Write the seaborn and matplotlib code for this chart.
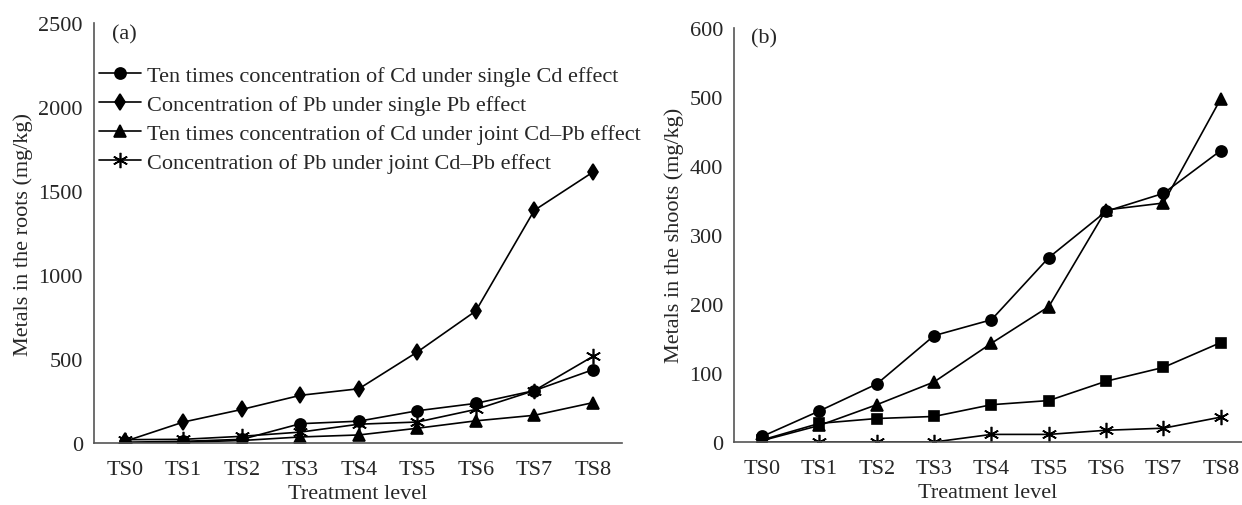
import pandas as pd
import matplotlib.pyplot as plt
import seaborn as sns

# Treatment levels
levels = ['TS0', 'TS1', 'TS2', 'TS3', 'TS4', 'TS5', 'TS6', 'TS7', 'TS8']

# (a) roots, mg/kg
roots_cd_single = [5, 10, 22, 115, 130, 192, 236, 312, 436]
roots_pb_single = [10, 125, 200, 284, 323, 542, 786, 1385, 1612]
roots_cd_joint = [0, 5, 15, 36, 48, 88, 132, 165, 240]
roots_pb_joint = [20, 22, 40, 65, 112, 125, 200, 312, 515]

# (b) shoots, mg/kg
shoots_cd_single = [8, 45, 84, 154, 177, 267, 334, 360, 422]
shoots_cd_joint = [2, 24, 54, 87, 143, 196, 336, 346, 497]
shoots_pb_single = [3, 27, 34, 37, 54, 60, 88, 108, 144]
shoots_pb_joint = [0, 0, 0, 0, 11, 11, 17, 20, 36]

legend_labels = [
    'Ten times concentration of Cd under single Cd effect',
    'Concentration of Pb under single Pb effect',
    'Ten times concentration of Cd under joint Cd\u2013Pb effect',
    'Concentration of Pb under joint Cd\u2013Pb effect',
]

sns.set_style('white')
plt.rcParams['font.family'] = ['Liberation Serif', 'DejaVu Serif']
plt.rcParams['font.size'] = 16

star = (6, 2, 0)

fig = plt.figure(figsize=(12.42, 5.06), dpi=100)
ax1 = fig.add_axes([0.0757, 0.1225, 0.4251, 0.830])
ax2 = fig.add_axes([0.591, 0.1245, 0.409, 0.819])

# (a) roots
series_a = [
    (roots_cd_single, 'o', 8, legend_labels[0]),
    (roots_pb_single, 'd', 8.5, legend_labels[1]),
    (roots_cd_joint, '^', 8.5, legend_labels[2]),
    (roots_pb_joint, star, 11, legend_labels[3]),
]
for vals, mk, ms, lab in series_a:
    df = pd.DataFrame({'level': levels, 'value': vals})
    sns.lineplot(data=df, x='level', y='value', marker=mk, markersize=ms,
                 color='black', linewidth=1.2, markeredgecolor='black',
                 markeredgewidth=1.2, sort=False, label=lab, ax=ax1)

# (b) shoots
series_b = [
    (shoots_cd_single, 'o', 8),
    (shoots_cd_joint, '^', 8.5),
    (shoots_pb_single, 's', 7.5),
    (shoots_pb_joint, star, 11),
]
for vals, mk, ms in series_b:
    df = pd.DataFrame({'level': levels, 'value': vals})
    sns.lineplot(data=df, x='level', y='value', marker=mk, markersize=ms,
                 color='black', linewidth=1.2, markeredgecolor='black',
                 markeredgewidth=1.2, sort=False, ax=ax2)

for ax, ymax, step, ylab, tag in [(ax1, 2500, 500, 'Metals in the roots (mg/kg)', '(a)'),
                                  (ax2, 600, 100, 'Metals in the shoots (mg/kg)', '(b)')]:
    ax.set_ylim(0, ymax)
    ax.set_yticks(range(0, ymax + 1, step))
    ax.set_xlabel('Treatment level', labelpad=4)
    ax.set_ylabel(ylab, labelpad=4)
    for side in ['top', 'right']:
        ax.spines[side].set_visible(False)
    for side in ['left', 'bottom']:
        ax.spines[side].set_color('#555555')
        ax.spines[side].set_linewidth(1.2)
    ax.tick_params(axis='y', direction='in', length=3, color='#555555', pad=8)
    ax.tick_params(axis='x', length=0, pad=12)
    ax.text(0.034, 0.998, tag, transform=ax.transAxes, va='top', ha='left')

ax1.set_xlim(-0.53, 8.5)
ax2.set_xlim(-0.49, 8.37)

ax1.legend(loc='upper left', bbox_to_anchor=(0.0095, 0.90), frameon=False,
           handlelength=1.9, handletextpad=0.25, labelspacing=0.38,
           borderpad=0, borderaxespad=0)

fig.savefig('out.png', dpi=100)
